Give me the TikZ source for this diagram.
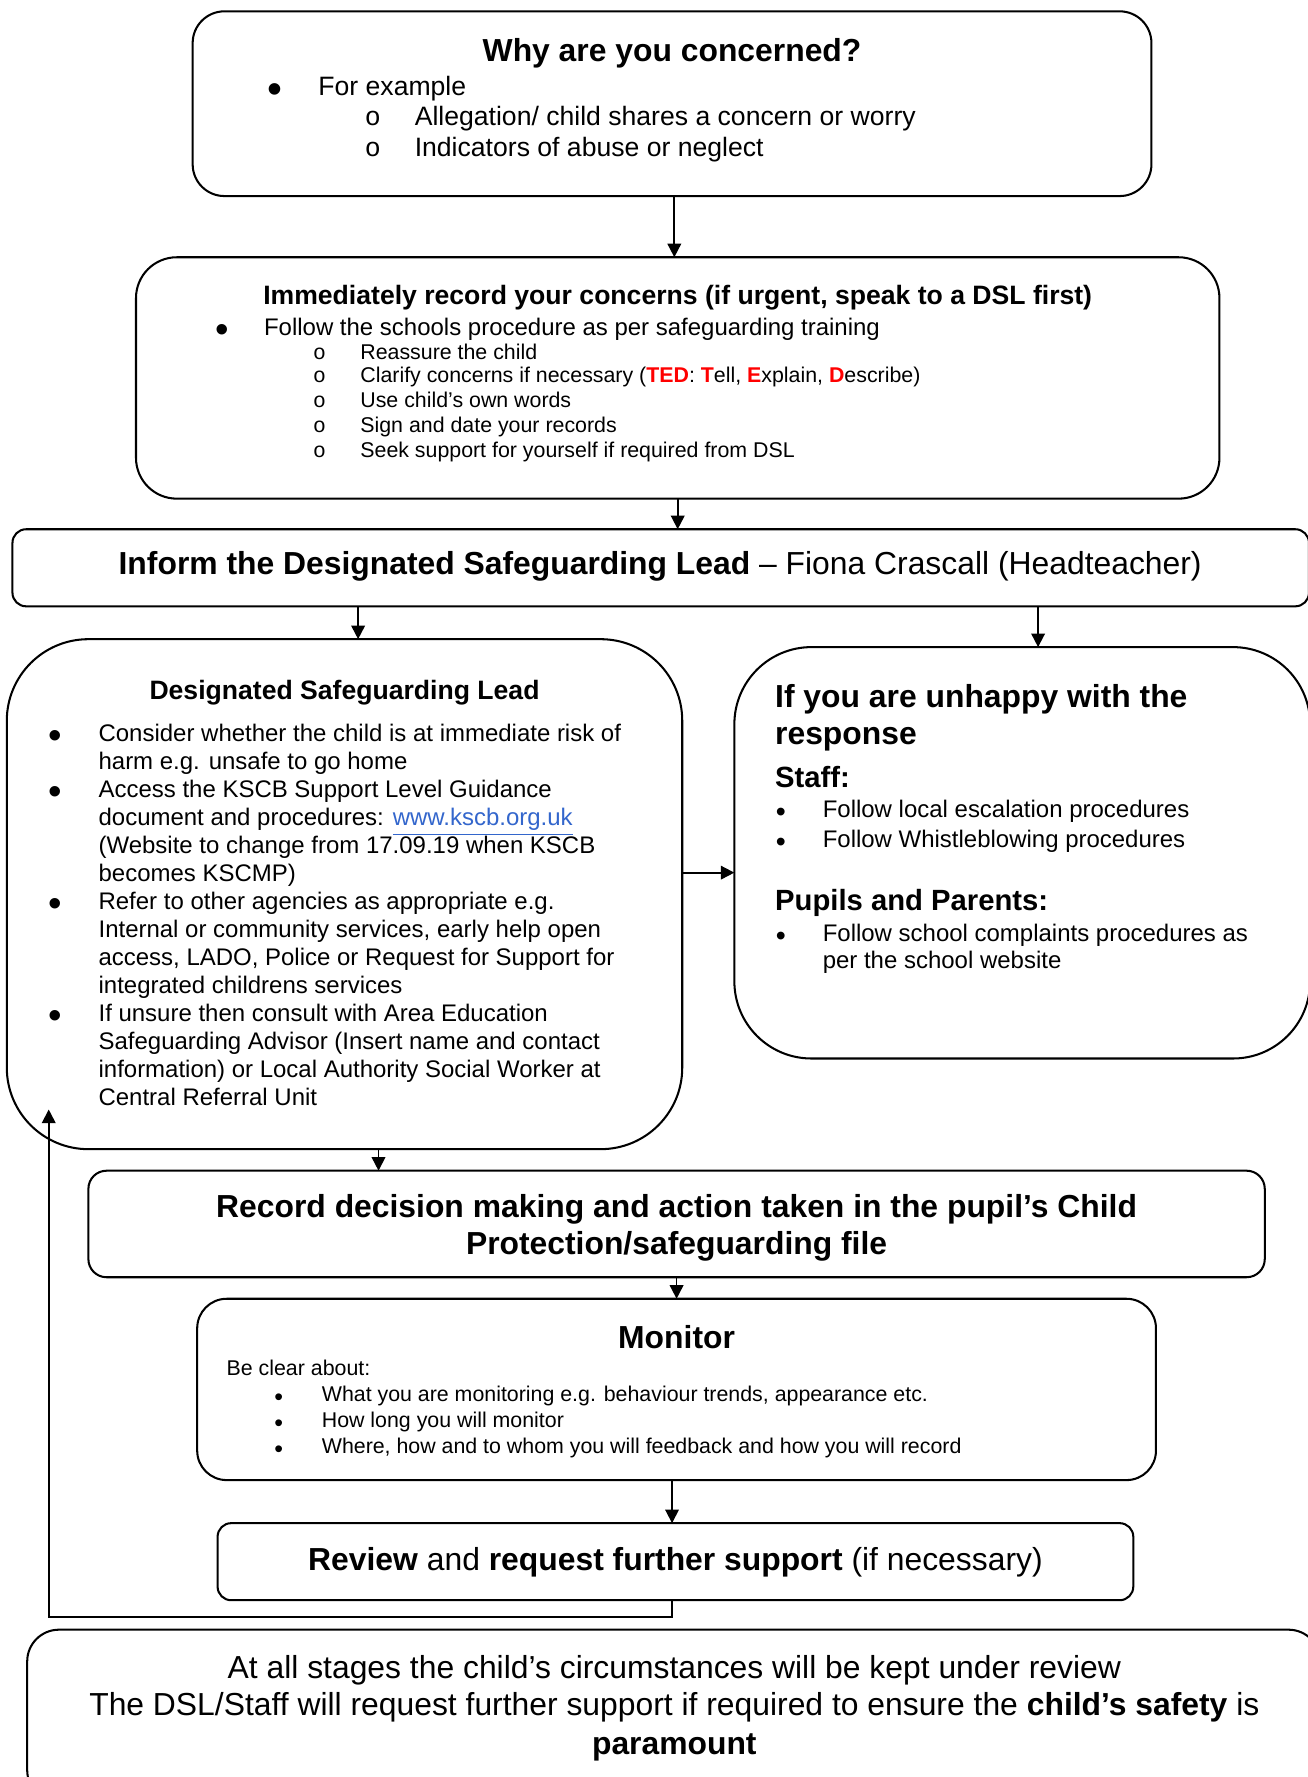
\documentclass[tikz,border=0pt]{standalone}
\usepackage{fontspec}
\setmainfont{Liberation Sans}
\newfontfamily\subbfont{Liberation Mono}
\usetikzlibrary{arrows.meta}
\definecolor{linkblue}{RGB}{51,102,204}
\newcommand\fA{\fontsize{14.05}{16.5}\selectfont}
\newcommand\fB{\fontsize{11.73}{14}\selectfont}
\newcommand\fC{\fontsize{10.58}{12.35}\selectfont}
\newcommand\fD{\fontsize{9.42}{11}\selectfont}
\newcommand\fE{\fontsize{12.9}{15}\selectfont}
\newcommand\bB{\fontsize{18.8}{20}\selectfont}
\newcommand\bC{\fontsize{17}{18}\selectfont}
\newcommand\bU{\fontsize{12.6}{13}\selectfont}
\newcommand\bD{\fontsize{11}{12}\selectfont}
\newcommand\tedr[1]{{\color{red}\bfseries #1}}
\begin{document}
\begin{tikzpicture}[x=0.5pt,y=-0.5pt,
  box/.style={draw=black, line width=0.9pt, inner sep=0pt, outer sep=0pt},
  arr/.style={line width=0.8pt, -{Triangle[length=6pt,width=6pt]}},
  ln/.style={inner sep=0pt, outer sep=0pt, anchor=base west},
  cl/.style={inner sep=0pt, outer sep=0pt, anchor=base}]
\useasboundingbox (0,0) rectangle (1154,1568);
\clip (0,0) rectangle (1154,1568);

% boxes
\node[box, minimum width=423pt, minimum height=81.5pt, rounded corners=14pt] (b1) at (593,91.5) {};
\node[box, minimum width=478pt, minimum height=106.5pt, rounded corners=18pt] (b2) at (598,333.5) {};
\node[box, minimum width=572pt, minimum height=34pt, rounded corners=6pt] (b3) at (583,501) {};
\node[box, minimum width=298pt, minimum height=225pt, rounded corners=36pt] (dsl) at (304,789) {};
\node[box, minimum width=254pt, minimum height=181.5pt, rounded corners=34pt] (un) at (902,752.5) {};
\node[box, minimum width=519pt, minimum height=47pt, rounded corners=8pt] (rec) at (597,1080) {};
\node[box, minimum width=423pt, minimum height=80pt, rounded corners=13pt] (mon) at (597,1226) {};
\node[box, minimum width=404pt, minimum height=34pt, rounded corners=6pt] (rev) at (596,1378) {};
\node[box, minimum width=570.5pt, minimum height=76pt, rounded corners=14pt] (bot) at (594.5,1514) {};

% connectors
\draw[arr] ([xshift=1pt]b1.south) -- ([xshift=1pt]b1.south |- b2.north);
\draw[arr] (b2.south) -- (b2.south |- b3.north);
\draw[arr] ([xshift=6pt]dsl.north |- b3.south) -- ([xshift=6pt]dsl.north);
\draw[arr] ([xshift=7pt]un.north |- b3.south) -- ([xshift=7pt]un.north);
\draw[arr] ([yshift=9.5pt]dsl.east) -- ([yshift=9.5pt]dsl.east -| un.west);
\draw[arr] ([xshift=15pt]dsl.south) -- ([xshift=15pt]dsl.south |- rec.north);
\draw[arr] (rec.south) -- (rec.south |- mon.north);
\draw[arr] ([xshift=-2pt]mon.south) -- ([xshift=-2pt]mon.south |- rev.north);
\coordinate (lp2) at (43,1427);
\coordinate (lpend) at (43,979);
\draw[arr] ([xshift=-1.5pt]rev.south) |- (lp2) -- (lpend);

% box 1
\node[cl,font=\fA\bfseries] (t1) at (593,54) {Why are you concerned?};
\node[cl,font=\bB] (t1b1) at (243,91.5) {•};
\node[ln,font=\fB] (t1l1) at (281,84.4) {For example};
\node[cl,font=\fB\subbfont] (t1b2) at (329,110.4) {o};
\node[ln,font=\fB] (t1l2) at (366,110.4) {Allegation/ child shares a concern or worry};
\node[cl,font=\fB\subbfont] (t1b3) at (329,138.4) {o};
\node[ln,font=\fB] (t1l3) at (366,138.4) {Indicators of abuse or neglect};

% box 2
\node[cl,font=\fB\bfseries] (t2) at (598,268.5) {Immediately record your concerns (if urgent, speak to a DSL first)};
\node[cl,font=\bC] (t2b0) at (196,301.8) {•};
\node[ln,font=\fC] (t2l0) at (233,295.6) {Follow the schools procedure as per safeguarding training};
\node[cl,font=\fD\subbfont] (t2b1) at (282,316.8) {o};
\node[ln,font=\fD] (t2l1) at (318,316.8) {Reassure the child};
\node[cl,font=\fD\subbfont] (t2b2) at (282,337.8) {o};
\node[ln,font=\fD] (t2l2) at (318,337.8) {Clarify concerns if necessary (\tedr{TED}: \tedr{T}ell, \tedr{E}xplain, \tedr{D}escribe)};
\node[cl,font=\fD\subbfont] (t2b3) at (282,359.8) {o};
\node[ln,font=\fD] (t2l3) at (318,359.8) {Use child’s own words};
\node[cl,font=\fD\subbfont] (t2b4) at (282,381.8) {o};
\node[ln,font=\fD] (t2l4) at (318,381.8) {Sign and date your records};
\node[cl,font=\fD\subbfont] (t2b5) at (282,403.8) {o};
\node[ln,font=\fD] (t2l5) at (318,403.8) {Seek support for yourself if required from DSL};

% box 3
\node[cl,font=\fA] (t3) at (582.5,507) {\textbf{Inform the Designated Safeguarding Lead} – Fiona Crascall (Headteacher)};

% DSL box
\node[cl,font=\fB\bfseries] (td) at (304,617.4) {Designated Safeguarding Lead};
\node[cl,font=\bC] (tdb1) at (49,660.8) {•};
\node[ln,font=\fC] (td1) at (87,654.6) {Consider whether the child is at immediate risk of};
\node[ln,font=\fC] (td2) at (87,679.3) {harm e.g. unsafe to go home};
\node[cl,font=\bC] (tdb2) at (49,710.2) {•};
\node[ln,font=\fC] (td3) at (87,704.0) {Access the KSCB Support Level Guidance};
\node[ln,font=\fC] (td4) at (87,728.7) {document and procedures: {\color{linkblue}\underline{www.kscb.org.uk}}};
\node[ln,font=\fC] (td5) at (87,753.4) {(Website to change from 17.09.19 when KSCB};
\node[ln,font=\fC] (td6) at (87,778.1) {becomes KSCMP)};
\node[cl,font=\bC] (tdb3) at (49,809.0) {•};
\node[ln,font=\fC] (td7) at (87,802.8) {Refer to other agencies as appropriate e.g.};
\node[ln,font=\fC] (td8) at (87,827.5) {Internal or community services, early help open};
\node[ln,font=\fC] (td9) at (87,852.2) {access, LADO, Police or Request for Support for};
\node[ln,font=\fC] (td10) at (87,876.9) {integrated childrens services};
\node[cl,font=\bC] (tdb4) at (49,907.8) {•};
\node[ln,font=\fC] (td11) at (87,901.6) {If unsure then consult with Area Education};
\node[ln,font=\fC] (td12) at (87,926.3) {Safeguarding Advisor (Insert name and contact};
\node[ln,font=\fC] (td13) at (87,951.0) {information) or Local Authority Social Worker at};
\node[ln,font=\fC] (td14) at (87,975.7) {Central Referral Unit};

% unhappy box
\node[ln,font=\fA\bfseries] (tu1) at (684,624) {If you are unhappy with the};
\node[ln,font=\fA\bfseries] (tu2) at (684,657) {response};
\node[ln,font=\fE\bfseries] (tu3) at (684,695) {Staff:};
\node[cl,font=\bU] (tub1) at (689,725.1) {•};
\node[ln,font=\fC] (tu4) at (726,721.6) {Follow local escalation procedures};
\node[cl,font=\bU] (tub2) at (689,751.1) {•};
\node[ln,font=\fC] (tu5) at (726,747.6) {Follow Whistleblowing procedures};
\node[ln,font=\fE\bfseries] (tu6) at (684,803) {Pupils and Parents:};
\node[cl,font=\bU] (tub3) at (689,834.1) {•};
\node[ln,font=\fC] (tu7) at (726,830.6) {Follow school complaints procedures as};
\node[ln,font=\fC] (tu8) at (726,854.6) {per the school website};

% record box
\node[cl,font=\fA\bfseries] (tr1) at (597,1074) {Record decision making and action taken in the pupil’s Child};
\node[cl,font=\fA\bfseries] (tr2) at (597,1107) {Protection/safeguarding file};

% monitor box
\node[cl,font=\fA\bfseries] (tm) at (597,1190) {Monitor};
\node[ln,font=\fD] (tm0) at (200,1213.8) {Be clear about:};
\node[cl,font=\bD] (tmb1) at (246,1239.8) {•};
\node[ln,font=\fD] (tm1) at (284,1236.8) {What you are monitoring e.g. behaviour trends, appearance etc.};
\node[cl,font=\bD] (tmb2) at (246,1262.8) {•};
\node[ln,font=\fD] (tm2) at (284,1259.8) {How long you will monitor};
\node[cl,font=\bD] (tmb3) at (246,1285.8) {•};
\node[ln,font=\fD] (tm3) at (284,1282.8) {Where, how and to whom you will feedback and how you will record};

% review box
\node[cl,font=\fA] (tv) at (596,1386) {\textbf{Review} and \textbf{request further support} (if necessary)};

% bottom box
\node[cl,font=\fA] (tb1) at (595,1481) {At all stages the child’s circumstances will be kept under review};
\node[cl,font=\fA] (tb2) at (595,1514) {The DSL/Staff will request further support if required to ensure the \textbf{child’s safety} is};
\node[cl,font=\fA\bfseries] (tb3) at (595,1548) {paramount};
\end{tikzpicture}
\end{document}
